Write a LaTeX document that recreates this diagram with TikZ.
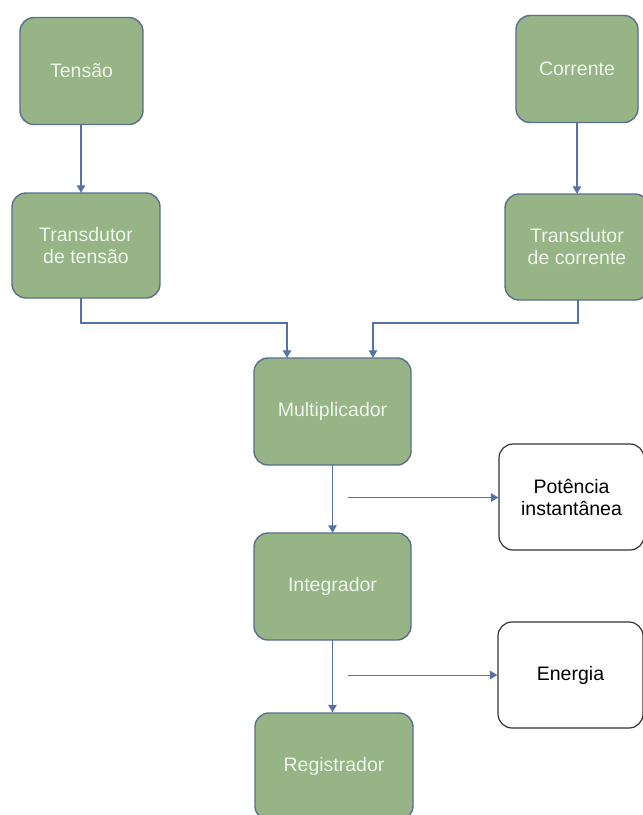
\documentclass[tikz,border=0pt]{standalone}
\usepackage{fontspec}
\setmainfont{Liberation Sans}
\usetikzlibrary{arrows.meta}
\definecolor{boxgreen}{HTML}{96B486}
\definecolor{boxedge}{HTML}{5A6E8E}
\definecolor{boxtext}{HTML}{F0F4EC}
\definecolor{linkblue}{HTML}{5472A8}
\tikzset{
  stage/.style={draw=boxedge, line width=1.4pt, fill=boxgreen, rounded corners=14pt,
    text=boxtext, align=center, inner sep=0pt,
    font=\fontsize{19.5}{22}\selectfont},
  result/.style={draw=black!80, line width=1.2pt, fill=white, rounded corners=14pt,
    text=black, align=center, inner sep=0pt,
    font=\fontsize{19.5}{22}\selectfont},
  link/.style={draw=linkblue, line width=1.3pt, -{Triangle[length=7.5pt,width=8.5pt]}},
  thinlink/.style={link, line width=0.9pt}
}
\begin{document}
\begin{tikzpicture}[x=1pt, y=-1pt]
  \useasboundingbox (0,0) rectangle (643,815);
  \clip (0,0) rectangle (643,815);

  % signal sources and transducers
  \node[stage, minimum width=123pt, minimum height=107pt] (tensao) at (81.5,71) {Tensão};
  \node[stage, minimum width=122pt, minimum height=107pt] (corrente) at (577,69) {Corrente};
  \node[stage, minimum width=148pt, minimum height=105pt] (tt) at (86,245.5) {Transdutor\\de tensão};
  \node[stage, minimum width=144pt, minimum height=106pt] (tc) at (577,247) {Transdutor\\de corrente};

  % processing chain
  \node[stage, minimum width=157pt, minimum height=107pt] (mult) at (332.5,411.5) {Multiplicador};
  \node[stage, minimum width=157pt, minimum height=107pt] (integ) at (332.5,586.5) {Integrador};
  \node[stage, minimum width=158pt, minimum height=107pt] (reg) at (334,766.5) {Registrador};

  % outputs
  \node[result, minimum width=145pt, minimum height=106pt] (pot) at (571.5,497) {Potência\\instantânea};
  \node[result, minimum width=145pt, minimum height=106pt] (ener) at (570.5,675) {Energia};

  % connectors
  \draw[link] (81,124.5) -- (81,192.8);
  \draw[link] (577,122.5) -- (577,193.8);

  \coordinate (tvbend) at (81,323);
  \coordinate (tcbend) at (578,323);
  \draw[link] (81,298) -- (tvbend) -- (287,323) -- (287,357.8);
  \draw[link] (578,300) -- (tcbend) -- (373,323) -- (373,357.8);

  \draw[link] (332.5,465) -- (332.5,532.8);
  \draw[link] (332.5,640) -- (332.5,712.3);

  \coordinate (pstart) at (348,497.5);
  \coordinate (estart) at (348,675);
  \draw[thinlink] (pstart) -- (pot.west |- pstart);
  \draw[thinlink] (estart) -- (ener.west |- estart);
\end{tikzpicture}
\end{document}
